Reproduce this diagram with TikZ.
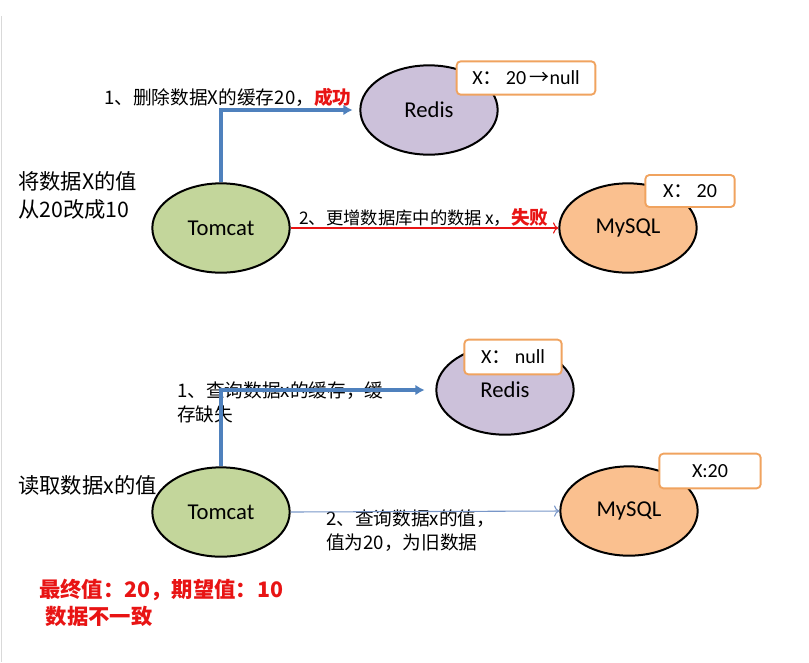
\documentclass[tikz,border=0pt]{standalone}
\usepackage{fontspec}
\setmainfont{Carlito}
\newfontfamily\cjk{Noto Sans CJK SC}
\usetikzlibrary{shapes.geometric,arrows.meta}

\definecolor{tomcatfill}{RGB}{195,214,155}
\definecolor{redisfill}{RGB}{204,193,218}
\definecolor{mysqlfill}{RGB}{250,192,143}
\definecolor{boxorange}{RGB}{240,163,95}
\definecolor{flowblue}{RGB}{79,129,189}
\definecolor{readblue}{RGB}{120,150,200}
\definecolor{failred}{RGB}{232,20,20}

\begin{document}
\begin{tikzpicture}[x=0.75pt,y=0.75pt,yscale=-1,xscale=1,
  server/.style={ellipse,draw=black,line width=1.5pt,minimum width=103pt,minimum height=67pt,inner sep=0pt,font=\fontsize{17}{20}\selectfont},
  valbox/.style={draw=boxorange,line width=1.4pt,rounded corners=3pt,fill=white,inner sep=0pt,font=\fontsize{15}{18}\selectfont},
  lbl/.style={inner sep=0pt,align=left,font=\cjk\fontsize{14}{18}\selectfont},
  note/.style={inner sep=0pt,align=left,font=\cjk\fontsize{16}{21}\selectfont}]
\useasboundingbox (0,0) rectangle (809,662);
\draw [black!15,line width=0.75pt] (1,16) -- (1,662);

%Write path: delete cache, then update database
\node [server,fill=tomcatfill] (tomcatA) at (221,228) {Tomcat};
\node [server,fill=redisfill] (redisA) at (429,110) {Redis};
\node [server,fill=mysqlfill] (mysqlA) at (628,228) {MySQL};
\node [valbox,minimum width=104pt,minimum height=25pt] (cacheA) at (526,78) {X{\cjk ：}\,20\,{\cjk →}null};
\node [valbox,minimum width=67pt,minimum height=24pt] (dbA) at (690,191) {X{\cjk ：}\,20};

% Text Node
\node [note,anchor=north west] (taskA) at (18,171) {将数据X的值\\从20改成10};
% Text Node
\node [lbl,anchor=west] (delA) at (104,97) {1、删除数据X的缓存20，{\bfseries\color{failred}成功}};
% Text Node
\node [lbl,anchor=west,font=\cjk\fontsize{13}{16}\selectfont] (updA) at (299,217) {2、更增数据库中的数据\,x，{\bfseries\color{failred}\fontsize{14}{16}\selectfont 失败}};

\draw [flowblue,line width=2.5pt,-{Latex[length=7pt,width=8pt]}] (tomcatA.north) |- ([xshift=-5pt]redisA.west);
\draw [failred,line width=0.8pt,-{To[length=4pt]}] (tomcatA.east) -- (mysqlA.west);

%Read path: cache miss, old value from database
\node [server,fill=tomcatfill] (tomcatB) at (221,512) {Tomcat};
\node [server,fill=redisfill] (redisB) at (505,390) {Redis};
\node [server,fill=mysqlfill] (mysqlB) at (629,511) {MySQL};
\node [valbox,minimum width=73pt,minimum height=26pt] (cacheB) at (513,357) {X{\cjk ：}\,null};
\node [valbox,minimum width=76pt,minimum height=26pt] (dbB) at (710,471) {X:20};

% Text Node
\node [note,anchor=west] (taskB) at (18,485) {读取数据x的值};
% Text Node
\node [lbl,anchor=north west] (getB) at (177,381) {1、查询数据x的缓存，缓\\存缺失};
% Text Node
\node [lbl,anchor=north west] (readB) at (326,509) {2、查询数据x的值，\\值为20，为旧数据};

\draw [flowblue,line width=2.5pt,-{Latex[length=7pt,width=8pt]}] (tomcatB.north) |- ([xshift=-8pt]redisB.west);
\draw [readblue,line width=0.8pt,-{To[length=4pt]}] (tomcatB.east) -- (mysqlB.west);

% Text Node
\node [note,anchor=north west,text=failred,font=\cjk\bfseries\fontsize{16}{20}\selectfont] (result) at (39,579) {最终值：20，期望值：10\\\hspace*{5pt}数据不一致};

\end{tikzpicture}
\end{document}
